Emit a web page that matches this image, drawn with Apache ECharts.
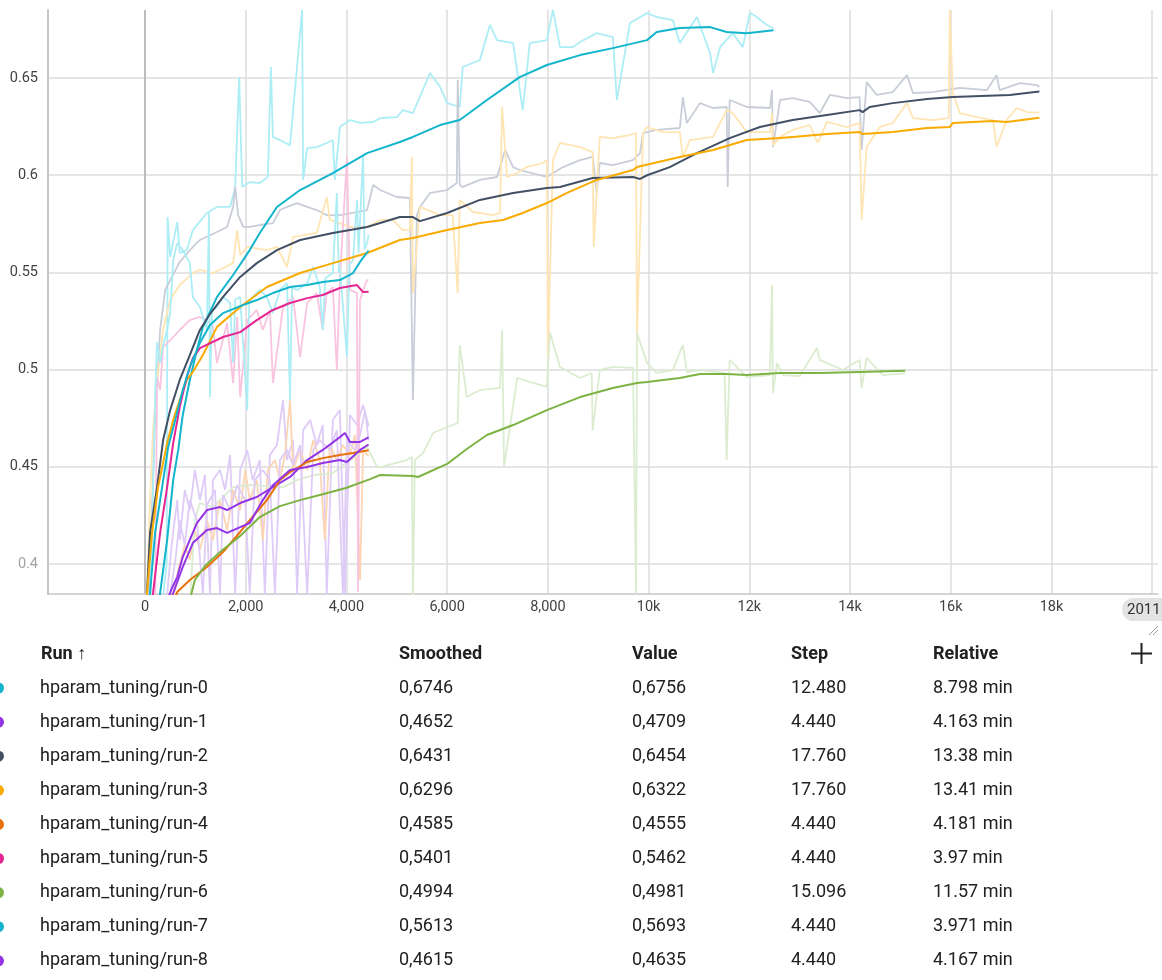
<!DOCTYPE html>
<html>
<head>
<meta charset="utf-8">
<script src="https://cdn.jsdelivr.net/npm/echarts@6/dist/echarts.min.js"></script>
<style>
  html, body { margin: 0; padding: 0; background: #fff; overflow: hidden; }
  #chart { width: 1162px; height: 980px; }
</style>
</head>
<body>
<div id="chart"></div>
<script>
// ---- runs and their final readings (table rows) ----
const runNames = ['hparam_tuning/run-0', 'hparam_tuning/run-1', 'hparam_tuning/run-2', 'hparam_tuning/run-3',
  'hparam_tuning/run-4', 'hparam_tuning/run-5', 'hparam_tuning/run-6', 'hparam_tuning/run-7', 'hparam_tuning/run-8'];
const lastSmoothed = [0.6746, 0.4652, 0.6431, 0.6296, 0.4585, 0.5401, 0.4994, 0.5613, 0.4615];
const lastValue = [0.6756, 0.4709, 0.6454, 0.6322, 0.4555, 0.5462, 0.4981, 0.5693, 0.4635];
const lastStep = [12480, 4440, 17760, 17760, 4440, 4440, 15096, 4440, 4440];
const relativeTime = ['8.798 min', '4.163 min', '13.38 min', '13.41 min', '4.181 min', '3.97 min', '11.57 min', '3.971 min', '4.167 min'];

const smoothColors = ['#12b5cb', '#9334e6', '#425066', '#f9ab00', '#e8710a', '#e52592', '#7cb342', '#12b5cb', '#9334e6'];
const rawColors = ['#acedf6', '#dfcbf8', '#c8cdd8', '#ffe5b3', '#fdd5b3', '#f8c4e0', '#dcecd0', '#acedf6', '#dfcbf8'];

// ---- axis ticks ----
const xGridSteps = [0, 2000, 4000, 6000, 8000, 10000, 12000, 14000, 16000, 18000, 20000];
const xLabelSteps = [0, 2000, 4000, 6000, 8000, 10000, 12000, 14000, 16000, 18000];
const yTicks = [0.4, 0.45, 0.5, 0.55, 0.6, 0.65];
const xMin = -1926, xMax = 20115;
const yMin = 0.3846, yMax = 0.685;

// ---- smoothed curves [step, value] (final point comes from the table) ----
const run0Smooth = [[250,0.370],[300,0.3851],[440,0.4124],[560,0.4432],[660,0.4587],[750,0.4767],[890,0.4947],[1030,0.5101],[1150,0.5219],[1430,0.5374],[1750,0.5487],[2080,0.5615],[2280,0.5703],[2620,0.5837],[3080,0.5924],[3730,0.6011],[4410,0.6114],[5060,0.6171],[5320,0.6197],[5860,0.6258],[6250,0.6284],[6790,0.6387],[7440,0.6505],[7980,0.6567],[8640,0.6618],[9290,0.6654],[9970,0.6695],[10160,0.6737],[10620,0.6757],[11220,0.6762],[11550,0.6737],[11950,0.6731]];
const run1Smooth = [[440,0.3815],[560,0.3890],[640,0.3933],[750,0.4036],[890,0.4124],[1030,0.4211],[1230,0.4278],[1490,0.4293],[1630,0.4278],[1890,0.4314],[2220,0.4345],[2540,0.4396],[2880,0.4448],[3220,0.4535],[3530,0.4587],[3870,0.4653],[3970,0.4674],[4070,0.4628],[4270,0.4628]];
const run2Smooth = [[10,0.370],[40,0.3851],[100,0.4160],[240,0.4396],[360,0.4638],[500,0.4792],[690,0.4947],[890,0.5075],[1090,0.5204],[1300,0.5290],[1550,0.5374],[1890,0.5477],[2220,0.5548],[2620,0.5615],[3080,0.5667],[3730,0.5703],[4410,0.5734],[5060,0.5785],[5320,0.5785],[5460,0.5764],[6000,0.5806],[6650,0.5873],[7310,0.5909],[7980,0.5934],[8240,0.5940],[8890,0.5986],[9690,0.5991],[9830,0.5981],[9970,0.6000],[10420,0.6042],[10960,0.6114],[11610,0.6191],[12210,0.6248],[12860,0.6284],[13540,0.6310],[14190,0.6335],[14250,0.6325],[14390,0.6351],[14850,0.6371],[15530,0.6392],[16040,0.6402],[17170,0.6413]];
const run3Smooth = [[10,0.370],[40,0.3851],[140,0.4160],[260,0.4396],[440,0.4622],[560,0.4741],[690,0.4844],[830,0.4947],[950,0.4988],[1150,0.5075],[1430,0.5220],[1890,0.5322],[2420,0.5425],[3080,0.5497],[3730,0.5548],[4410,0.5600],[5060,0.5667],[5320,0.5677],[6000,0.5718],[6650,0.5754],[7110,0.5770],[7500,0.5806],[7980,0.5857],[8380,0.5909],[8970,0.5976],[9690,0.6027],[9770,0.6042],[10620,0.6094],[11280,0.6130],[11950,0.6181],[12610,0.6191],[12860,0.6197],[13540,0.6212],[14190,0.6222],[14250,0.6212],[14850,0.6222],[15530,0.6243],[15980,0.6248],[16040,0.6269],[16840,0.6279],[17110,0.6274]];
const run4Smooth = [[580,0.3815],[640,0.3856],[890,0.3918],[1230,0.3985],[1550,0.4062],[1890,0.4165],[2080,0.4226],[2420,0.4329],[2680,0.4432],[2880,0.4473],[3220,0.4525],[3530,0.4545],[3870,0.4561],[4130,0.4571]];
const run5Smooth = [[130,0.370],[160,0.3851],[300,0.4160],[440,0.4396],[560,0.4622],[690,0.4808],[830,0.4962],[950,0.5060],[1090,0.5111],[1550,0.5168],[1890,0.5193],[2220,0.5255],[2540,0.5307],[2880,0.5343],[3220,0.5368],[3530,0.5384],[3870,0.5420],[4210,0.5435],[4330,0.5399]];
const run6Smooth = [[890,0.3815],[990,0.3918],[1190,0.3990],[1490,0.4062],[1890,0.4144],[2280,0.4242],[2680,0.4298],[3080,0.4329],[3470,0.4355],[3990,0.4391],[4470,0.4437],[4670,0.4458],[5320,0.4453],[5420,0.4448],[6000,0.4515],[6390,0.4592],[6790,0.4664],[7310,0.4715],[7980,0.4792],[8640,0.4859],[9290,0.4906],[9770,0.4931],[9970,0.4936],[10620,0.4957],[11020,0.4978],[11550,0.4978],[11950,0.4972],[12610,0.4983],[13400,0.4983],[14190,0.4988]];
const run7Smooth = [[70,0.370],[100,0.3851],[200,0.4160],[340,0.4396],[460,0.4602],[600,0.4741],[750,0.4895],[890,0.5014],[1090,0.5137],[1290,0.5230],[1550,0.5291],[1890,0.5327],[2220,0.5358],[2540,0.5394],[2880,0.5425],[3220,0.5435],[3530,0.5451],[3870,0.5461],[4130,0.5497],[4270,0.5554]];
const run8Smooth = [[500,0.3815],[560,0.3851],[750,0.3985],[950,0.4108],[1230,0.4175],[1430,0.4185],[1630,0.4160],[1890,0.4190],[2080,0.4211],[2340,0.4329],[2540,0.4406],[2880,0.4484],[3220,0.4499],[3530,0.4520],[3870,0.4535],[4010,0.4525],[4270,0.4587]];

// ---- raw readings [step, value] (final point comes from the table) ----
const run0Raw = [[300,0.370],[430,0.400],[450,0.5785],[500,0.5580],[640,0.5759],[690,0.5600],[830,0.5615],[950,0.5718],[1230,0.5806],[1430,0.5837],[1690,0.5837],[1790,0.5934],[1870,0.6505],[1930,0.5940],[2080,0.5965],[2280,0.5960],[2440,0.5991],[2500,0.6557],[2540,0.6197],[2680,0.6181],[2880,0.6155],[3120,0.6850],[3140,0.5976],[3220,0.6140],[3410,0.6145],[3610,0.6166],[3730,0.6181],[3770,0.5976],[3870,0.6248],[4070,0.6284],[4270,0.6269],[4530,0.6274],[4670,0.6294],[5000,0.6299],[5120,0.6335],[5320,0.6320],[5660,0.6526],[5860,0.6454],[6000,0.6371],[6250,0.6351],[6310,0.6557],[6650,0.6593],[6850,0.6773],[6990,0.6695],[7310,0.6680],[7500,0.6335],[7640,0.6680],[7980,0.6695],[8100,0.6850],[8240,0.6659],[8500,0.6659],[8640,0.6685],[8970,0.6731],[9290,0.6711],[9370,0.6387],[9630,0.6783],[9970,0.6834],[10160,0.6814],[10480,0.6798],[10620,0.6680],[10960,0.6814],[11220,0.6629],[11280,0.6526],[11420,0.6659],[11670,0.6731],[11870,0.6659],[12010,0.6834],[12090,0.6824],[12350,0.6773]];
const run1Raw = [[440,0.3846],[540,0.4124],[640,0.4329],[690,0.4124],[790,0.4381],[890,0.4278],[990,0.4484],[1090,0.4329],[1190,0.4458],[1290,0.3846],[1350,0.4432],[1490,0.4484],[1590,0.4381],[1690,0.4561],[1790,0.3846],[1890,0.4484],[2030,0.4587],[2140,0.4432],[2280,0.4535],[2380,0.3846],[2480,0.4561],[2620,0.4612],[2740,0.4844],[2820,0.4535],[2940,0.4638],[3020,0.3846],[3140,0.4689],[3280,0.4741],[3410,0.4612],[3530,0.4715],[3610,0.3846],[3730,0.4741],[3870,0.4792],[3970,0.3846],[4070,0.4767],[4210,0.4715],[4330,0.4818],[4410,0.4741]];
const run2Raw = [[60,0.370],[200,0.4741],[300,0.5204],[400,0.5410],[690,0.5554],[950,0.5631],[1090,0.5667],[1430,0.5708],[1630,0.5734],[1750,0.5837],[1790,0.5940],[1850,0.5795],[1950,0.5734],[2080,0.5734],[2280,0.5744],[2540,0.5754],[2680,0.5821],[2820,0.5837],[3020,0.5857],[3220,0.5837],[3410,0.5821],[3610,0.5795],[3870,0.5795],[4130,0.5806],[4410,0.5821],[4530,0.5950],[4670,0.5924],[5000,0.5888],[5260,0.5883],[5320,0.4844],[5400,0.5795],[5460,0.5837],[5660,0.5909],[6000,0.5924],[6190,0.5960],[6210,0.6490],[6250,0.5950],[6310,0.5940],[6650,0.5976],[6990,0.5991],[7150,0.6130],[7310,0.6042],[7440,0.6027],[7980,0.5991],[8300,0.6042],[8640,0.6078],[8890,0.6094],[8970,0.5909],[9030,0.6063],[9290,0.6052],[9690,0.6078],[9830,0.6114],[9890,0.6217],[10160,0.6233],[10620,0.6243],[10680,0.6402],[10760,0.6269],[11020,0.6371],[11280,0.6346],[11550,0.6351],[11570,0.5940],[11610,0.6387],[11950,0.6351],[12410,0.6346],[12450,0.6438],[12470,0.6145],[12610,0.6387],[12860,0.6397],[13200,0.6377],[13400,0.6320],[13600,0.6413],[13940,0.6397],[14190,0.6402],[14230,0.6130],[14330,0.6479],[14530,0.6413],[14850,0.6428],[15130,0.6515],[15250,0.6423],[15640,0.6428],[16180,0.6449],[16720,0.6438],[16910,0.6515],[16970,0.6438],[17370,0.6474],[17710,0.6464]];
const run3Raw = [[0,0.370],[40,0.3846],[100,0.4329],[160,0.4689],[240,0.4947],[360,0.5204],[500,0.5358],[690,0.5435],[950,0.5497],[1090,0.5513],[1350,0.5497],[1750,0.5548],[1830,0.5718],[1890,0.5590],[2030,0.5631],[2420,0.5615],[2620,0.5631],[2820,0.5528],[2940,0.5682],[3410,0.5703],[3610,0.5888],[3670,0.5770],[4070,0.5734],[4410,0.5734],[4670,0.5770],[4920,0.5770],[5120,0.5718],[5260,0.5718],[5300,0.6094],[5320,0.5394],[5460,0.5837],[5860,0.5795],[6110,0.5795],[6210,0.5394],[6250,0.5873],[6510,0.5811],[6910,0.5795],[7050,0.5806],[7090,0.6351],[7190,0.5991],[7390,0.6011],[7580,0.6042],[7900,0.6063],[7980,0.6078],[8000,0.5065],[8100,0.6078],[8240,0.6166],[8640,0.6145],[8890,0.6119],[8910,0.5631],[9030,0.6197],[9290,0.6191],[9630,0.6207],[9750,0.6217],[9770,0.5188],[9890,0.6217],[9970,0.6248],[10280,0.6222],[10620,0.6222],[10680,0.6094],[10820,0.6181],[11280,0.6197],[11550,0.6335],[11670,0.6320],[11950,0.6222],[12410,0.6222],[12450,0.6320],[12470,0.6155],[12610,0.6197],[12860,0.6233],[13200,0.6258],[13360,0.6166],[13540,0.6274],[13940,0.6248],[14190,0.6269],[14230,0.5770],[14330,0.6145],[14590,0.6248],[14850,0.6269],[15130,0.6371],[15250,0.6294],[15640,0.6284],[15960,0.6294],[15980,0.6850],[16040,0.6423],[16180,0.6320],[16520,0.6299],[16840,0.6284],[16910,0.6145],[17110,0.6284],[17310,0.6346],[17510,0.6325]];
const run4Raw = [[560,0.3815],[660,0.3969],[790,0.4098],[890,0.4021],[990,0.4175],[1090,0.4072],[1230,0.4226],[1350,0.4124],[1490,0.4329],[1630,0.4175],[1750,0.4381],[1890,0.4278],[1990,0.4484],[2080,0.4329],[2220,0.4432],[2340,0.4124],[2440,0.4484],[2580,0.4535],[2680,0.4432],[2780,0.4561],[2880,0.4844],[2940,0.4484],[3080,0.4587],[3220,0.4484],[3340,0.4638],[3470,0.4535],[3570,0.4124],[3670,0.4612],[3810,0.4535],[3930,0.4612],[4070,0.4561],[4170,0.4664],[4270,0.3918],[4330,0.4587]];
const run5Raw = [[200,0.370],[240,0.4962],[300,0.4895],[360,0.5116],[500,0.5152],[690,0.5204],[890,0.5255],[1090,0.5271],[1230,0.5255],[1350,0.5219],[1430,0.5034],[1630,0.5240],[1750,0.4931],[1830,0.5271],[1890,0.4859],[2030,0.5255],[2220,0.5307],[2340,0.5204],[2480,0.5307],[2540,0.4931],[2740,0.5322],[2940,0.5374],[3080,0.5065],[3220,0.5343],[3410,0.5394],[3530,0.5204],[3610,0.5394],[3730,0.5425],[3810,0.4998],[3870,0.5461],[4010,0.6094],[4070,0.5410],[4210,0.5394],[4230,0.3856],[4270,0.5358],[4370,0.5435],[4410,0.5461]];
const run6Raw = [[890,0.380],[990,0.4226],[1090,0.4314],[1350,0.4293],[1750,0.4396],[2080,0.4406],[2740,0.4396],[3020,0.4432],[3340,0.4458],[3730,0.4468],[4210,0.4561],[4410,0.4602],[4610,0.4499],[4670,0.4499],[5200,0.4535],[5300,0.4551],[5320,0.380],[5360,0.4535],[5520,0.4571],[5720,0.4674],[6000,0.4705],[6210,0.4725],[6250,0.5127],[6390,0.4859],[6650,0.4895],[7050,0.4906],[7090,0.5204],[7130,0.4499],[7390,0.4957],[7640,0.4937],[7980,0.4911],[8040,0.5193],[8240,0.5014],[8640,0.4957],[8870,0.4983],[8890,0.4689],[9030,0.4998],[9290,0.5014],[9690,0.5009],[9750,0.3846],[9770,0.5188],[9970,0.5034],[10160,0.4983],[10480,0.4998],[10680,0.5127],[10760,0.4988],[11020,0.4998],[11510,0.4983],[11550,0.4535],[11610,0.5050],[11950,0.4962],[12410,0.4972],[12450,0.5435],[12470,0.4880],[12550,0.5034],[12670,0.4972],[13000,0.4967],[13340,0.5111],[13400,0.5050],[13860,0.4998],[14190,0.5050],[14230,0.4906],[14330,0.5060],[14650,0.4972]];
const run7Raw = [[100,0.370],[200,0.4844],[240,0.5142],[300,0.5034],[360,0.5127],[440,0.5204],[500,0.5291],[560,0.5564],[640,0.5651],[750,0.5615],[890,0.5548],[950,0.5374],[1090,0.5322],[1230,0.5204],[1270,0.5806],[1290,0.4859],[1330,0.5300],[1430,0.5322],[1550,0.5374],[1690,0.5343],[1750,0.5034],[1790,0.5360],[1890,0.5374],[2030,0.4792],[2070,0.5350],[2140,0.5374],[2280,0.5410],[2420,0.5374],[2540,0.5291],[2680,0.5410],[2820,0.5445],[2880,0.4844],[2920,0.5420],[3020,0.5410],[3220,0.5445],[3340,0.5528],[3470,0.5425],[3530,0.5204],[3580,0.5470],[3730,0.5497],[3810,0.5909],[3850,0.5500],[3870,0.5528],[4010,0.5065],[4060,0.5540],[4130,0.5564],[4210,0.5873],[4240,0.5600],[4330,0.6100],[4360,0.5620],[4410,0.5651]];
const run8Raw = [[500,0.3846],[600,0.4015],[690,0.4226],[790,0.4098],[890,0.4329],[1030,0.4226],[1150,0.3846],[1230,0.4304],[1390,0.4381],[1490,0.3846],[1550,0.4355],[1690,0.4278],[1830,0.4406],[1990,0.4329],[2080,0.3846],[2180,0.4432],[2340,0.4484],[2480,0.4432],[2580,0.3846],[2680,0.4535],[2820,0.4587],[2940,0.4509],[3080,0.4612],[3220,0.3846],[3340,0.4587],[3470,0.4638],[3670,0.4587],[3810,0.4689],[3930,0.3846],[4010,0.4638],[4170,0.4587],[4270,0.4664],[4370,0.4792]];

const smoothRuns = [run0Smooth, run1Smooth, run2Smooth, run3Smooth, run4Smooth, run5Smooth, run6Smooth, run7Smooth, run8Smooth];
const rawRuns = [run0Raw, run1Raw, run2Raw, run3Raw, run4Raw, run5Raw, run6Raw, run7Raw, run8Raw];

// ---- formatting helpers ----
const comma = v => v.toFixed(4).replace('.', ',');
const fmtStep = s => {
  const t = Math.floor(s / 1000), r = s % 1000;
  return t > 0 ? t + '.' + String(r).padStart(3, '0') : String(r);
};
const fmtX = v => v === 0 ? '0' : (v < 10000 ? v.toLocaleString('en-US') : (v / 1000) + 'k');

// ---- series ----
const series = [];
rawRuns.forEach((pts, i) => {
  series.push({
    type: 'line', name: runNames[i] + ' (raw)', z: 2,
    data: pts.concat([[lastStep[i], lastValue[i]]]),
    showSymbol: false, silent: true, animation: false,
    lineStyle: { color: rawColors[i], width: 1.8 }
  });
});
smoothRuns.forEach((pts, i) => {
  series.push({
    type: 'line', name: runNames[i], z: 3,
    data: pts.concat([[lastStep[i], lastSmoothed[i]]]),
    showSymbol: false, silent: true, animation: false,
    lineStyle: { color: smoothColors[i], width: 2 }
  });
});
// zero-step reference line
series[0].markLine = {
  silent: true, symbol: 'none', animation: false, z: 1,
  label: { show: false },
  lineStyle: { type: 'solid', color: '#bdbdbd', width: 2 },
  data: [{ xAxis: 0 }]
};

// ---- table under the chart ----
const font = '18px Roboto, "Noto Sans", sans-serif';
const boldFont = 'bold 18px Roboto, "Noto Sans", sans-serif';
const ink = '#212121';
const headerY = 654, rowY0 = 688, rowH = 34.1;
const colX = { name: 40, smooth: 399, value: 632, step: 791, rel: 933 };
const txt = (x, y, text, f) => ({ type: 'text', x, y, silent: true,
  style: { text, font: f || font, fill: ink, verticalAlign: 'middle', align: 'left' } });

const graphics = [
  txt(colX.name + 1, headerY, 'Run ↑', boldFont),
  txt(colX.smooth, headerY, 'Smoothed', boldFont),
  txt(colX.value, headerY, 'Value', boldFont),
  txt(colX.step, headerY, 'Step', boldFont),
  txt(colX.rel, headerY, 'Relative', boldFont),
  { type: 'line', silent: true, shape: { x1: 1131, y1: 653.5, x2: 1152, y2: 653.5 }, style: { stroke: ink, lineWidth: 2 } },
  { type: 'line', silent: true, shape: { x1: 1141.5, y1: 643, x2: 1141.5, y2: 664 }, style: { stroke: ink, lineWidth: 2 } },
  // extent pill at the end of the step axis
  { type: 'rect', silent: true, shape: { x: 1122, y: 598, width: 70, height: 23, r: 11.5 }, style: { fill: '#e3e3e3' } },
  { type: 'text', silent: true, x: 1127, y: 610, style: { text: String(Math.round(xMax)), font: '15px Roboto, sans-serif', fill: '#333', verticalAlign: 'middle' } },
  // resize grip
  { type: 'line', silent: true, shape: { x1: 1149, y1: 635, x2: 1158, y2: 626 }, style: { stroke: '#9e9e9e', lineWidth: 1 } },
  { type: 'line', silent: true, shape: { x1: 1153, y1: 635, x2: 1158, y2: 630 }, style: { stroke: '#9e9e9e', lineWidth: 1 } }
];
runNames.forEach((name, i) => {
  const y = rowY0 + i * rowH;
  graphics.push({ type: 'circle', silent: true, shape: { cx: -1.5, cy: y, r: 5.5 }, style: { fill: smoothColors[i] } });
  graphics.push(txt(colX.name, y, name));
  graphics.push(txt(colX.smooth, y, comma(lastSmoothed[i])));
  graphics.push(txt(colX.value, y, comma(lastValue[i])));
  graphics.push(txt(colX.step, y, fmtStep(lastStep[i])));
  graphics.push(txt(colX.rel, y, relativeTime[i]));
});

const chart = echarts.init(document.getElementById('chart'), null, { renderer: 'canvas' });
chart.setOption({
  animation: false,
  backgroundColor: '#ffffff',
  grid: { left: 48, right: 4, top: 10, bottom: 386, containLabel: false },
  xAxis: {
    type: 'value', min: xMin, max: xMax,
    axisLine: { show: true, onZero: false, lineStyle: { color: '#c6c6c6', width: 1.5 } },
    axisTick: { show: false, customValues: xGridSteps },
    axisLabel: { customValues: xLabelSteps, formatter: fmtX, margin: 6, fontSize: 14.5,
      fontFamily: 'Roboto, sans-serif', color: '#424242' },
    splitLine: { show: true, lineStyle: { color: '#dcdcdc', width: 1.5 } }
  },
  yAxis: {
    type: 'value', min: yMin, max: yMax,
    axisLine: { show: true, onZero: false, lineStyle: { color: '#c6c6c6', width: 2 } },
    axisTick: { show: false, customValues: yTicks },
    axisLabel: { customValues: yTicks, margin: 10, fontSize: 14.5, fontFamily: 'Roboto, sans-serif',
      formatter: v => String(v),
      color: v => (v < 0.42 ? '#a3a3a3' : '#424242') },
    splitLine: { show: true, lineStyle: { color: '#dcdcdc', width: 1.5 } }
  },
  series: series,
  graphic: graphics
});
</script>
</body>
</html>
